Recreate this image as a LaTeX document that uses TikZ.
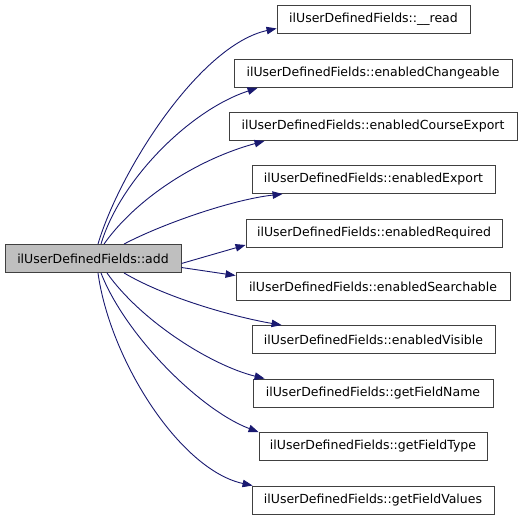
\documentclass[tikz,border=0pt]{standalone}
\usepackage{fontspec}
\setmainfont{DejaVu Sans}
\usetikzlibrary{arrows.meta}
\definecolor{edgecol}{HTML}{191970}
\definecolor{boxline}{HTML}{404040}
\tikzset{
  fn/.style={draw=boxline, line width=0.9pt, fill=white, minimum height=28pt, inner sep=0pt,
    font=\fontsize{12.5pt}{14pt}\selectfont},
  cur/.style={fn, fill=black!25},
  call/.style={draw=edgecol, line width=0.9pt, -{Triangle[length=10pt,width=7.5pt]}}
}
\begin{document}
\begin{tikzpicture}[x=1pt,y=-1pt]
\useasboundingbox (0,0) rectangle (523,520);
\node[cur, minimum width=176pt] (add) at (93,258.5) {ilUserDefinedFields::add};
\node[fn, minimum width=193pt] (read) at (373.5,19) {ilUserDefinedFields::\_\_read};
\node[fn, minimum width=278pt] (chg) at (373,73.5) {ilUserDefinedFields::enabledChangeable};
\node[fn, minimum width=288pt] (crs) at (373,126.5) {ilUserDefinedFields::enabledCourseExport};
\node[fn, minimum width=243pt] (exp) at (373.5,179.5) {ilUserDefinedFields::enabledExport};
\node[fn, minimum width=256pt] (req) at (374,233) {ilUserDefinedFields::enabledRequired};
\node[fn, minimum width=274pt] (srch) at (373,286.5) {ilUserDefinedFields::enabledSearchable};
\node[fn, minimum width=243pt] (vis) at (373.5,339.5) {ilUserDefinedFields::enabledVisible};
\node[fn, minimum width=240pt] (fname) at (373,393) {ilUserDefinedFields::getFieldName};
\node[fn, minimum width=228pt] (ftype) at (373,446.5) {ilUserDefinedFields::getFieldType};
\node[fn, minimum width=242pt] (fval) at (373,500) {ilUserDefinedFields::getFieldValues};

\draw[call] ([xshift=5pt]add.north) .. controls (120,170) and (200,45) .. ([yshift=5pt]read.south west);
\draw[call] ([xshift=8pt]add.north) .. controls (120,180) and (190,110) .. ([xshift=24pt]chg.south west);
\draw[call] ([xshift=11pt]add.north) .. controls (135,200) and (195,160) .. ([xshift=36pt]crs.south west);
\draw[call] ([xshift=31pt]add.north) .. controls (160,225) and (230,200) .. ([xshift=31pt]exp.south west);
\draw[call] ([yshift=-5pt]add.east) -- ([yshift=-12pt]req.west);
\draw[call] ([yshift=-9pt]add.east) -- ([yshift=11pt]srch.west);
\draw[call] ([xshift=31pt]add.south) .. controls (170,300) and (240,318) .. ([xshift=30pt]vis.north west);
\draw[call] ([xshift=14pt]add.south) .. controls (140,320) and (210,365) .. ([xshift=12pt]fname.north west);
\draw[call] ([xshift=8pt]add.south) .. controls (125,335) and (200,410) .. ([xshift=0pt,yshift=0pt]ftype.north west);
\draw[call] ([xshift=5pt]add.south) .. controls (110,360) and (180,470) .. ([xshift=1pt]fval.north west);
\end{tikzpicture}
\end{document}
